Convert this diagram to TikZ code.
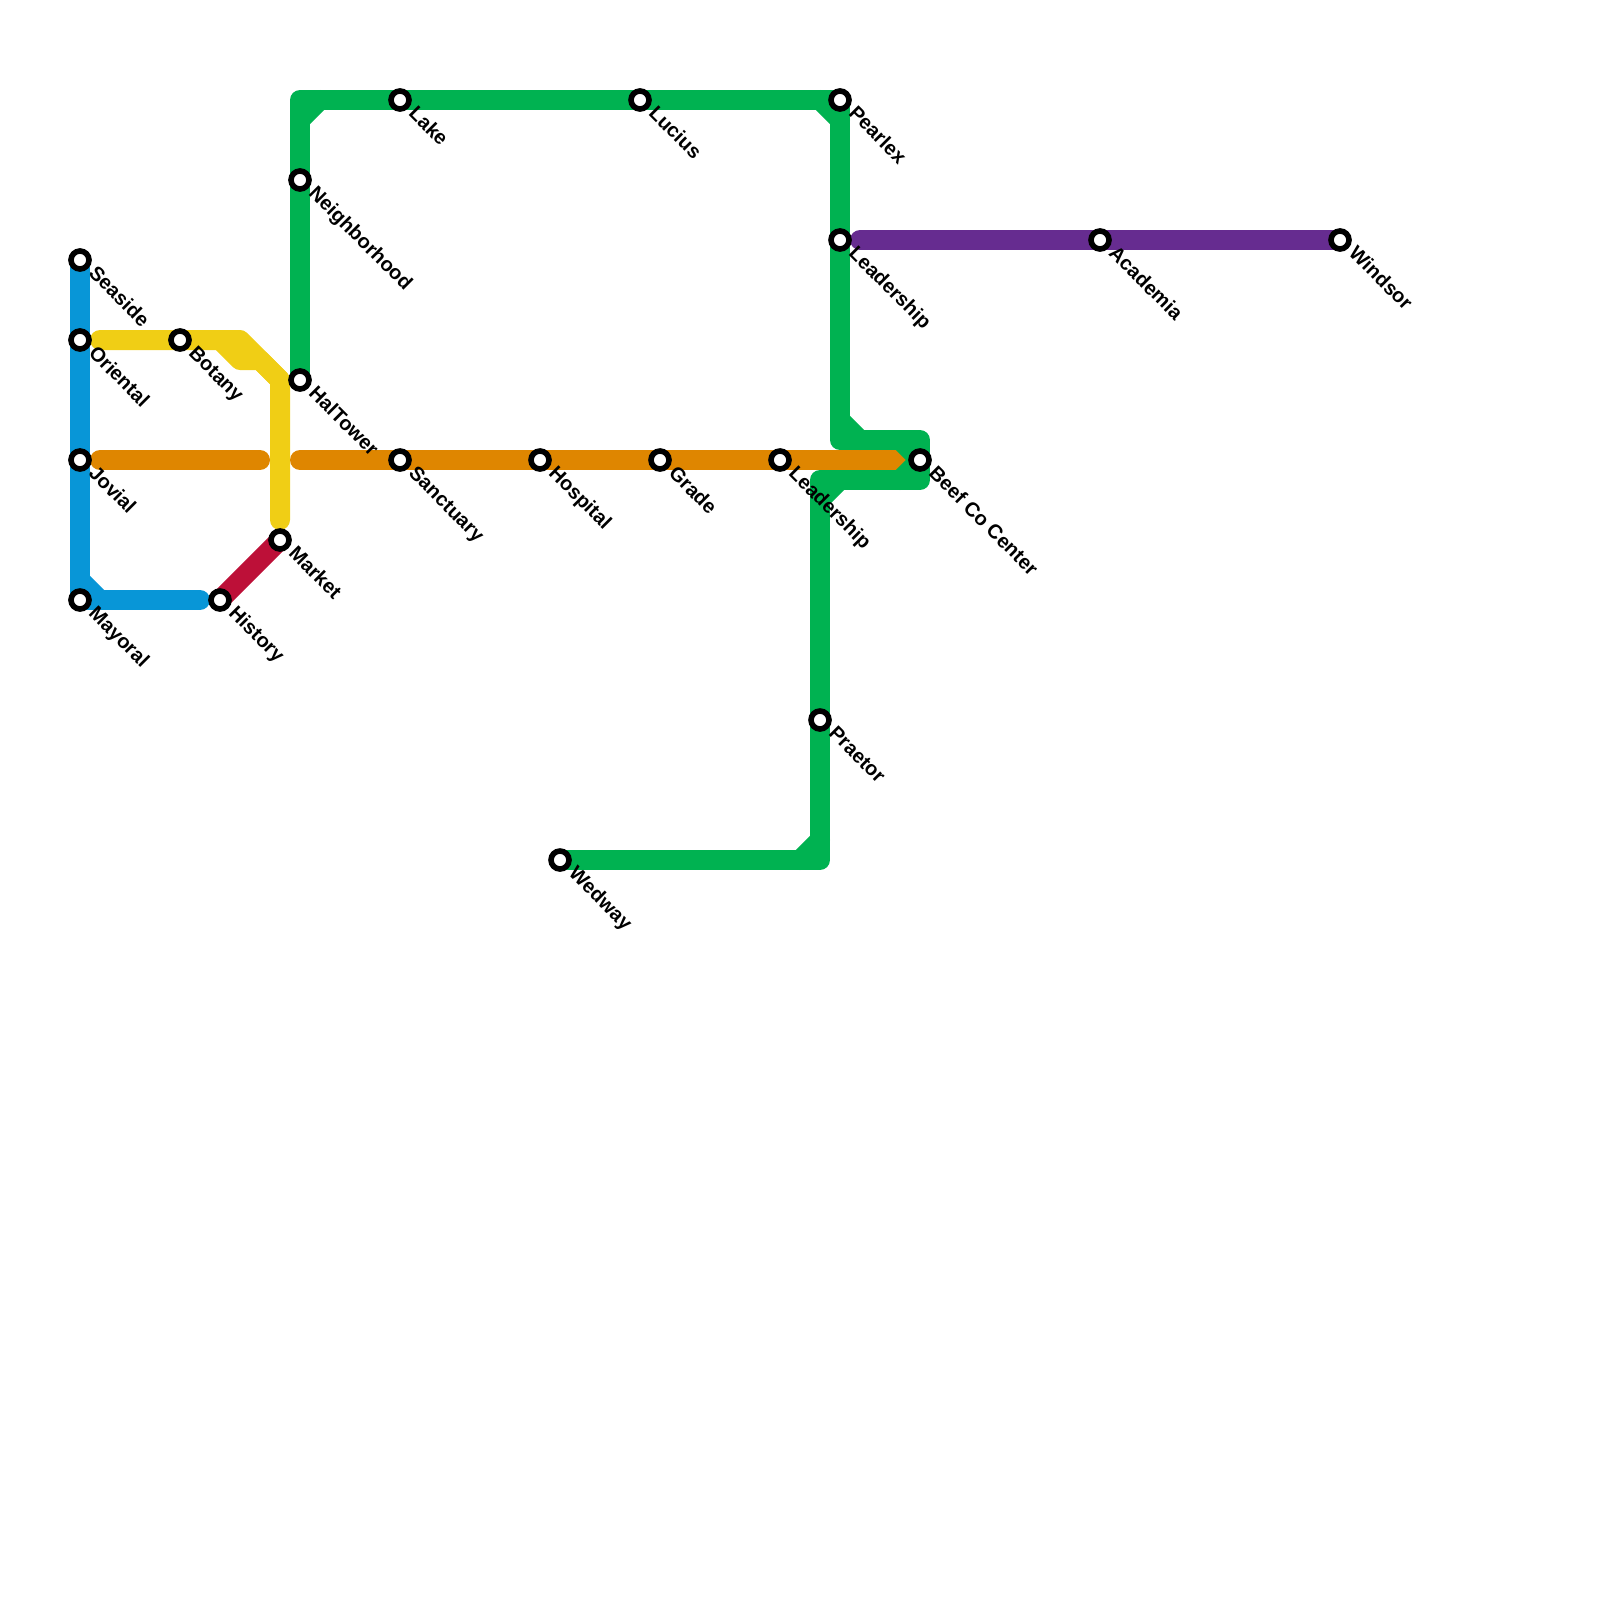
\documentclass[tikz,border=0pt]{standalone}
\usepackage{fontspec}
\usepackage{tikz}
\usetikzlibrary{arrows.meta,positioning,calc,backgrounds}
\newfontfamily\stationfont{Liberation Sans}
\definecolor{lineblue}{HTML}{0896D7}
\definecolor{lineyellow}{HTML}{F0CE15}
\definecolor{lineorange}{HTML}{DF8600}
\definecolor{linegreen}{HTML}{00B251}
\definecolor{linered}{HTML}{BD1038}
\definecolor{linepurple}{HTML}{662C90}
\tikzset{
  % Base styles
  map base/.style={
    x=0.5pt, y=-0.5pt,
    node distance=1.9pt and 9pt,
  },
  % Stations and their labels
  station/.style={circle, draw=black, line width=2.8pt, minimum size=9pt, inner sep=0pt, fill=white},
  station label/.style={font=\stationfont\bfseries\fontsize{10}{12}\selectfont, rotate=-45, inner sep=0pt, text height=7.2pt, text depth=2pt},
  % Lines
  metro line/.style={line width=10pt, line cap=round, line join=round},
}

\begin{document}
\begin{tikzpicture}[map base]
\useasboundingbox (0,0) rectangle (1600,1600);

% Stations on the left
\node[station] (seaside) at (80,260) {};
\node[station] (oriental) at (80,340) {};
\node[station] (jovial) at (80,460) {};
\node[station] (mayoral) at (80,600) {};
\node[station] (botany) at (180,340) {};
\node[station] (history) at (220,600) {};
\node[station] (market) at (280,540) {};

% Stations on the long loop
\node[station] (halTower) at (300,380) {};
\node[station] (neighborhood) at (300,180) {};
\node[station] (lake) at (400,100) {};
\node[station] (lucius) at (640,100) {};
\node[station] (pearlex) at (840,100) {};
\node[station] (leadershipN) at (840,240) {};
\node[station] (beefCo) at (920,460) {};
\node[station] (praetor) at (820,720) {};
\node[station] (wedway) at (560,860) {};

% Stations on the cross line
\node[station] (sanctuary) at (400,460) {};
\node[station] (hospital) at (540,460) {};
\node[station] (grade) at (660,460) {};
\node[station] (leadershipS) at (780,460) {};

% Stations on the east branch
\node[station] (academia) at (1100,240) {};
\node[station] (windsor) at (1340,240) {};

% Bend points
\coordinate (blueBend) at (80,580);
\coordinate (blueFoot) at (100,600);
\coordinate (blueEnd) at (200,600);
\coordinate (yellowStart) at (100,340);
\coordinate (yellowCut) at (220,340);
\coordinate (yellowTop) at (240,340);
\coordinate (yellowLow) at (240,360);
\coordinate (yellowMid) at (260,360);
\coordinate (yellowBend) at (280,380);
\coordinate (yellowEnd) at (280,520);
\coordinate (orangeW) at (100,460);
\coordinate (orangeWE) at (260,460);
\coordinate (orangeE) at (300,460);
\coordinate (cornerNW) at (300,100);
\coordinate (cutNWa) at (300,120);
\coordinate (cutNWb) at (320,100);
\coordinate (cutNEa) at (820,100);
\coordinate (cutNEb) at (840,120);
\coordinate (stepA) at (840,440);
\coordinate (stepCutA) at (840,420);
\coordinate (stepCutB) at (860,440);
\coordinate (stepB) at (920,440);
\coordinate (stepC) at (920,480);
\coordinate (stepD) at (820,480);
\coordinate (tipN) at (900,440);
\coordinate (tipS) at (900,480);
\coordinate (stepCutC) at (820,500);
\coordinate (stepCutD) at (840,480);
\coordinate (cornerSE) at (820,860);
\coordinate (cutSEa) at (820,840);
\coordinate (cutSEb) at (800,860);
\coordinate (purpleStart) at (860,240);

\begin{scope}[on background layer]
% Blue line
\draw[metro line, lineblue] (seaside.center) -- (mayoral.center) -- (blueEnd);
\draw[metro line, lineblue] (blueBend) -- (blueFoot);

% Yellow line
\draw[metro line, lineyellow] (yellowStart) -- (yellowTop) -- (yellowBend) -- (yellowEnd);
\draw[metro line, lineyellow] (yellowCut) -- (yellowLow) -- (yellowMid) -- (yellowBend);

% Red line
\draw[metro line, linered] (history.center) -- (market.center);

% Orange line
\draw[metro line, lineorange] (orangeW) -- (orangeWE);
\draw[metro line, lineorange] (orangeE) -- (beefCo.center);

% Green line
\draw[metro line, linegreen] (halTower.center) -- (cornerNW) -- (pearlex.center) -- (stepA) -- (stepB) -- (stepC) -- (stepD) -- (cornerSE) -- (wedway.center);
\draw[metro line, linegreen] (cutNWa) -- (cutNWb);
\draw[metro line, linegreen] (cutNEa) -- (cutNEb);
\draw[metro line, linegreen] (stepCutA) -- (stepCutB);
\draw[metro line, linegreen] (tipN) -- (beefCo.center) -- (tipS);
\draw[metro line, linegreen] (stepCutC) -- (stepCutD);
\draw[metro line, linegreen] (cutSEa) -- (cutSEb);

% Purple line
\draw[metro line, linepurple] (purpleStart) -- (windsor.center);
\end{scope}

% Station labels
\node[station label, below right=of seaside.center] (seasideL) {Seaside};
\node[station label, below right=of oriental.center] (orientalL) {Oriental};
\node[station label, below right=of jovial.center] (jovialL) {Jovial};
\node[station label, below right=of mayoral.center] (mayoralL) {Mayoral};
\node[station label, below right=of botany.center] (botanyL) {Botany};
\node[station label, below right=of history.center] (historyL) {History};
\node[station label, below right=of market.center] (marketL) {Market};
\node[station label, below right=of halTower.center] (halTowerL) {HalTower};
\node[station label, below right=of neighborhood.center] (neighborhoodL) {Neighborhood};
\node[station label, below right=of lake.center] (lakeL) {Lake};
\node[station label, below right=of lucius.center] (luciusL) {Lucius};
\node[station label, below right=of pearlex.center] (pearlexL) {Pearlex};
\node[station label, below right=of leadershipN.center] (leadershipNL) {Leadership};
\node[station label, below right=of beefCo.center] (beefCoL) {Beef Co Center};
\node[station label, below right=of praetor.center] (praetorL) {Praetor};
\node[station label, below right=of wedway.center] (wedwayL) {Wedway};
\node[station label, below right=of sanctuary.center] (sanctuaryL) {Sanctuary};
\node[station label, below right=of hospital.center] (hospitalL) {Hospital};
\node[station label, below right=of grade.center] (gradeL) {Grade};
\node[station label, below right=of leadershipS.center] (leadershipSL) {Leadership};
\node[station label, below right=of academia.center] (academiaL) {Academia};
\node[station label, below right=of windsor.center] (windsorL) {Windsor};
\end{tikzpicture}
\end{document}
